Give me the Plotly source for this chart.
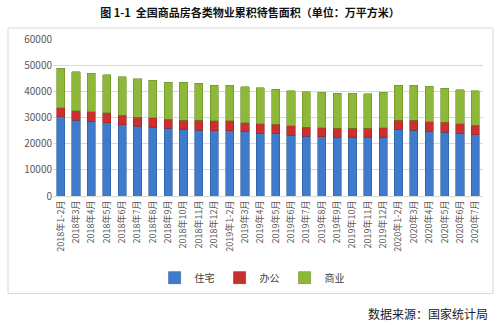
import plotly.graph_objects as go

categories = [
    "2018年1-2月", "2018年3月", "2018年4月", "2018年5月", "2018年6月", "2018年7月",
    "2018年8月", "2018年9月", "2018年10月", "2018年11月", "2018年12月",
    "2019年1-2月", "2019年3月", "2019年4月", "2019年5月", "2019年6月", "2019年7月",
    "2019年8月", "2019年9月", "2019年10月", "2019年11月", "2019年12月",
    "2020年1-2月", "2020年3月", "2020年4月", "2020年5月", "2020年6月", "2020年7月",
]

residential = [30200, 29000, 28400, 28000, 27300, 26700, 26200, 25800, 25500, 25200, 25000,
               24900, 24600, 24000, 23700, 23100, 22900, 22600, 22300, 22200, 22200, 22300,
               25400, 25100, 24800, 24400, 23700, 23400]
office = [3500, 3600, 3800, 3800, 3500, 3450, 3700, 3450, 3500, 3800, 3700,
          3800, 3450, 3650, 3750, 3700, 3400, 3450, 3500, 3600, 3600, 3750,
          3600, 3900, 3550, 3700, 3900, 3700]
commercial = [15100, 14900, 14700, 14600, 14700, 14650, 14400, 14300, 14400, 14000, 13650,
              13600, 13700, 13750, 13300, 13400, 13550, 13550, 13550, 13400, 13300, 13550,
              13400, 13400, 13550, 13000, 13000, 13100]

series_names = ["住宅", "办公", "商业"]
colors = ["#3E7CCB", "#C9302F", "#8DB83A"]
line_colors = ["#2A5D9E", "#9A2222", "#6A8E25"]

fig = go.Figure()
for name, vals, c, lc in zip(series_names, [residential, office, commercial], colors, line_colors):
    fig.add_trace(go.Bar(x=categories, y=vals, name=name,
                         marker=dict(color=c, line=dict(color=lc, width=0.6))))

font_cjk = "Noto Sans CJK SC"
fig.update_layout(
    barmode="stack",
    bargap=0.47,
    width=500, height=325,
    margin=dict(l=53, r=17, t=39, b=129),
    paper_bgcolor="white", plot_bgcolor="white",
    font=dict(family=font_cjk, size=10, color="#595959"),
    title=dict(text="<b>图 1-1  全国商品房各类物业累积待售面积（单位：万平方米）</b>",
               x=0.5, xanchor="center", y=1 - 13 / 325, yanchor="middle",
               font=dict(family=font_cjk, size=11, color="#111111")),
    showlegend=True,
    legend=dict(orientation="h", x=0.463, xanchor="center", y=-0.52, yanchor="middle",
                font=dict(size=10, color="#404040"), itemwidth=30, traceorder="normal",
                bgcolor="rgba(0,0,0,0)"),
    xaxis=dict(tickangle=-90, tickfont=dict(size=9, color="#595959"), showgrid=False,
               showline=True, linecolor="#d9d9d9", linewidth=1, ticks=""),
    yaxis=dict(range=[0, 60000], dtick=10000, showgrid=True, gridcolor="#d9d9d9",
               zeroline=False, tickfont=dict(size=10, color="#595959"),
               tickformat="d", ticklen=0, ticks=""),
)

fig.add_shape(type="rect", xref="paper", yref="paper",
              x0=(8 - 53) / 430, x1=(493 - 53) / 430,
              y0=(195.7 - 293) / 156.7, y1=(195.7 - 28) / 156.7,
              line=dict(color="#d9d9d9", width=1), layer="below")

fig.add_annotation(text="数据来源：国家统计局", xref="paper", yref="paper",
                   x=(490 - 53) / 430, xanchor="right",
                   y=(195.7 - 313) / 156.7, yanchor="middle", showarrow=False,
                   font=dict(family=font_cjk, size=12, color="#222222"))

fig.write_html("out.html")
